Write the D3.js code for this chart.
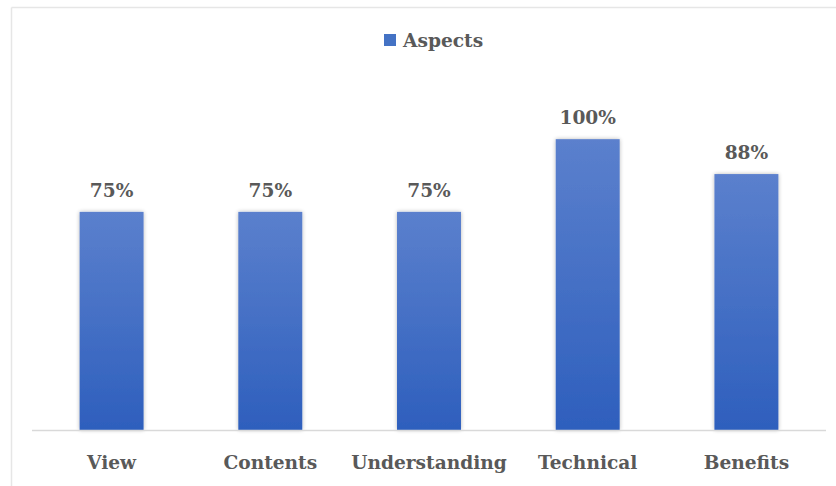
<!DOCTYPE html>
<html>
<head>
<meta charset="utf-8">
<script src="https://cdn.jsdelivr.net/npm/d3@7"></script>
<style>
  html, body { margin: 0; padding: 0; background: #ffffff; }
  svg { display: block; }
</style>
</head>
<body>
<div id="chart"></div>
<script>
// Share of positive responses per evaluated aspect
const categories = ["View", "Contents", "Understanding", "Technical", "Benefits"];
const values = [75, 75, 75, 100, 88];
const seriesName = "Aspects";

const W = 836, H = 486;
const margin = { left: 32, right: 10, top: 81, bottom: 56 };
const plotRight = W - margin.right;
const plotBottom = H - margin.bottom;
const FONT = "'DejaVu Serif', 'Liberation Serif', serif";
const FS = 18.6;

const svg = d3.select("#chart").append("svg")
  .attr("width", W).attr("height", H)
  .attr("font-family", FONT);

const defs = svg.append("defs");
const grad = defs.append("linearGradient")
  .attr("id", "barFill").attr("x1", 0).attr("y1", 0).attr("x2", 0).attr("y2", 1);
grad.append("stop").attr("offset", "0%").attr("stop-color", "#5b80cd");
grad.append("stop").attr("offset", "100%").attr("stop-color", "#2e5fbd");

const shadow = defs.append("filter").attr("id", "barShadow")
  .attr("x", "-20%").attr("y", "-10%").attr("width", "140%").attr("height", "120%");
shadow.append("feGaussianBlur").attr("in", "SourceAlpha").attr("stdDeviation", 2.2).attr("result", "blur");
shadow.append("feComponentTransfer").attr("in", "blur").attr("result", "soft")
  .append("feFuncA").attr("type", "linear").attr("slope", 0.28);
const merge = shadow.append("feMerge");
merge.append("feMergeNode").attr("in", "soft");
merge.append("feMergeNode").attr("in", "SourceGraphic");

// Outer frame (top and left edges visible)
svg.append("line").attr("x1", 11.5).attr("x2", W).attr("y1", 7.5).attr("y2", 7.5)
  .attr("stroke", "#e6e6e6").attr("stroke-width", 1.5);
svg.append("line").attr("x1", 11.5).attr("x2", 11.5).attr("y1", 7.5).attr("y2", H)
  .attr("stroke", "#e6e6e6").attr("stroke-width", 1.5);

const x = d3.scaleBand().domain(categories)
  .range([margin.left, plotRight]).paddingInner(0.597).paddingOuter(0.3);
const y = d3.scaleLinear().domain([0, 120]).range([plotBottom, margin.top]);

// Bars
svg.append("g").selectAll("rect").data(values).join("rect")
  .attr("x", (d, i) => x(categories[i]))
  .attr("y", d => y(d))
  .attr("width", x.bandwidth())
  .attr("height", d => y(0) - y(d))
  .attr("fill", "url(#barFill)")
  .attr("filter", "url(#barShadow)");

// Category axis
const axis = svg.append("g").attr("transform", `translate(0,${plotBottom})`)
  .call(d3.axisBottom(x).tickSize(0).tickPadding(26))
  .attr("font-family", FONT).attr("font-size", FS).attr("font-weight", "bold");
axis.select(".domain").attr("stroke", "#d9d9d9").attr("stroke-width", 1.5)
  .attr("d", `M${margin.left},0.5H${plotRight}`);
axis.selectAll("text").attr("fill", "#595959");

// Value labels
svg.append("g").selectAll("text").data(values).join("text")
  .attr("x", (d, i) => x(categories[i]) + x.bandwidth() / 2)
  .attr("y", d => y(d) - 15)
  .attr("text-anchor", "middle")
  .attr("font-size", FS).attr("font-weight", "bold").attr("fill", "#595959")
  .text(d => d + "%");

// Legend
const legend = svg.append("g").attr("transform", "translate(384,34)");
legend.append("rect").attr("width", 12).attr("height", 12).attr("fill", "#4472c4");
legend.append("text").attr("x", 19).attr("y", 12.5)
  .attr("font-size", FS).attr("font-weight", "bold").attr("fill", "#595959")
  .text(seriesName);
</script>
</body>
</html>
